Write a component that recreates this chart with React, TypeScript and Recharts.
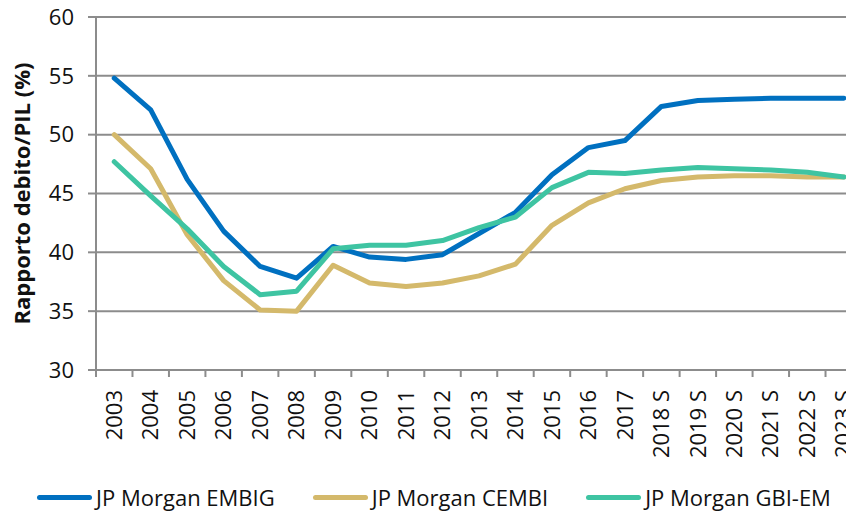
import { CartesianGrid, Legend, Line, LineChart, XAxis, YAxis } from "recharts";

const categories = [
  "2003", "2004", "2005", "2006", "2007", "2008", "2009", "2010", "2011", "2012",
  "2013", "2014", "2015", "2016", "2017", "2018 S", "2019 S", "2020 S", "2021 S",
  "2022 S", "2023 S",
];

const embig = [
  54.8, 52.1, 46.2, 41.8, 38.8, 37.8, 40.5, 39.6, 39.4, 39.8,
  41.6, 43.4, 46.6, 48.9, 49.5, 52.4, 52.9, 53.0, 53.1, 53.1, 53.1,
];
const cembi = [
  50.0, 47.1, 41.5, 37.6, 35.1, 35.0, 38.9, 37.4, 37.1, 37.4,
  38.0, 39.0, 42.3, 44.2, 45.4, 46.1, 46.4, 46.5, 46.5, 46.4, 46.4,
];
const gbiEm = [
  47.7, 44.8, 42.0, 38.8, 36.4, 36.7, 40.3, 40.6, 40.6, 41.0,
  42.1, 43.0, 45.5, 46.8, 46.7, 47.0, 47.2, 47.1, 47.0, 46.8, 46.4,
];
const yTicks = [30, 35, 40, 45, 50, 55, 60];

const series = [
  { key: "embig", name: "JP Morgan EMBIG", color: "#0070C0" },
  { key: "cembi", name: "JP Morgan CEMBI", color: "#D4B96B" },
  { key: "gbiEm", name: "JP Morgan GBI-EM", color: "#3EC4A2" },
];

const data = categories.map((year, i) => ({
  year,
  embig: embig[i],
  cembi: cembi[i],
  gbiEm: gbiEm[i],
}));

const WIDTH = 870;
const HEIGHT = 506;
const MARGIN = { top: 9, right: 16, bottom: 0, left: 0 };
const Y_AXIS_W = 88;
const PLOT_W = WIDTH - MARGIN.left - MARGIN.right - Y_AXIS_W;
const BAND = PLOT_W / categories.length;
const TICK_SIZE = 7;
const TICK_MARGIN = 13;
const FONT = "'Open Sans', sans-serif";
const GRID = "#8c8c8c";

// category axis ticks sit between categories, labels in the middle
function CategoryTick(props: any) {
  const { x, y, payload } = props;
  const left = x - BAND / 2;
  const axisY = y - TICK_SIZE - TICK_MARGIN;
  return (
    <g>
      <line x1={left} x2={left} y1={axisY} y2={axisY + TICK_SIZE} stroke={GRID} strokeWidth={2} />
      <text
        x={x}
        y={y}
        dy="0.35em"
        transform={`rotate(-90, ${x}, ${y})`}
        textAnchor="end"
        fontSize={22}
        fontFamily={FONT}
        fill="#111"
      >
        {payload.value}
      </text>
    </g>
  );
}

function YLabel(props: any) {
  const { viewBox } = props;
  const cx = 14;
  const cy = viewBox.y + viewBox.height / 2;
  return (
    <text
      x={cx}
      y={cy}
      dy="0.35em"
      transform={`rotate(-90, ${cx}, ${cy})`}
      textAnchor="middle"
      fontSize={22}
      fontWeight="bold"
      fontFamily={FONT}
      fill="#111"
    >
      Rapporto debito/PIL (%)
    </text>
  );
}

function LegendRow() {
  return (
    <div
      style={{
        display: "flex",
        justifyContent: "center",
        alignItems: "center",
        gap: 38,
        height: 26,
        fontFamily: FONT,
        fontSize: 22,
        color: "#111",
      }}
    >
      {series.map((s) => (
        <div key={s.key} style={{ display: "flex", alignItems: "center", gap: 4 }}>
          <span
            style={{
              display: "inline-block",
              width: 55,
              height: 5,
              borderRadius: 3,
              background: s.color,
            }}
          />
          <span>{s.name}</span>
        </div>
      ))}
    </div>
  );
}

export default function App() {
  return (
    <div style={{ width: 846, height: 506, overflow: "hidden" }}>
      <LineChart width={WIDTH} height={HEIGHT} data={data} margin={MARGIN}>
        <CartesianGrid vertical={false} stroke={GRID} strokeWidth={2} />
        <XAxis
          dataKey="year"
          interval={0}
          height={118}
          padding={{ left: BAND / 2, right: BAND / 2 }}
          stroke={GRID}
          strokeWidth={2}
          tickLine={false}
          tickSize={TICK_SIZE}
          tickMargin={TICK_MARGIN}
          tick={<CategoryTick />}
        />
        <YAxis
          width={Y_AXIS_W}
          domain={[30, 60]}
          ticks={yTicks}
          interval={0}
          stroke={GRID}
          strokeWidth={2}
          tickSize={8}
          tickMargin={14}
          tick={{ fontSize: 22, fontFamily: FONT, fill: "#111" }}
          label={<YLabel />}
        />
        <Legend
          verticalAlign="bottom"
          content={<LegendRow />}
          wrapperStyle={{ left: 0, width: 852, bottom: 4 }}
        />
        {series.map((s) => (
          <Line
            key={s.key}
            type="linear"
            dataKey={s.key}
            name={s.name}
            stroke={s.color}
            strokeWidth={5}
            strokeLinecap="round"
            strokeLinejoin="round"
            dot={false}
            activeDot={false}
            isAnimationActive={false}
          />
        ))}
      </LineChart>
    </div>
  );
}
